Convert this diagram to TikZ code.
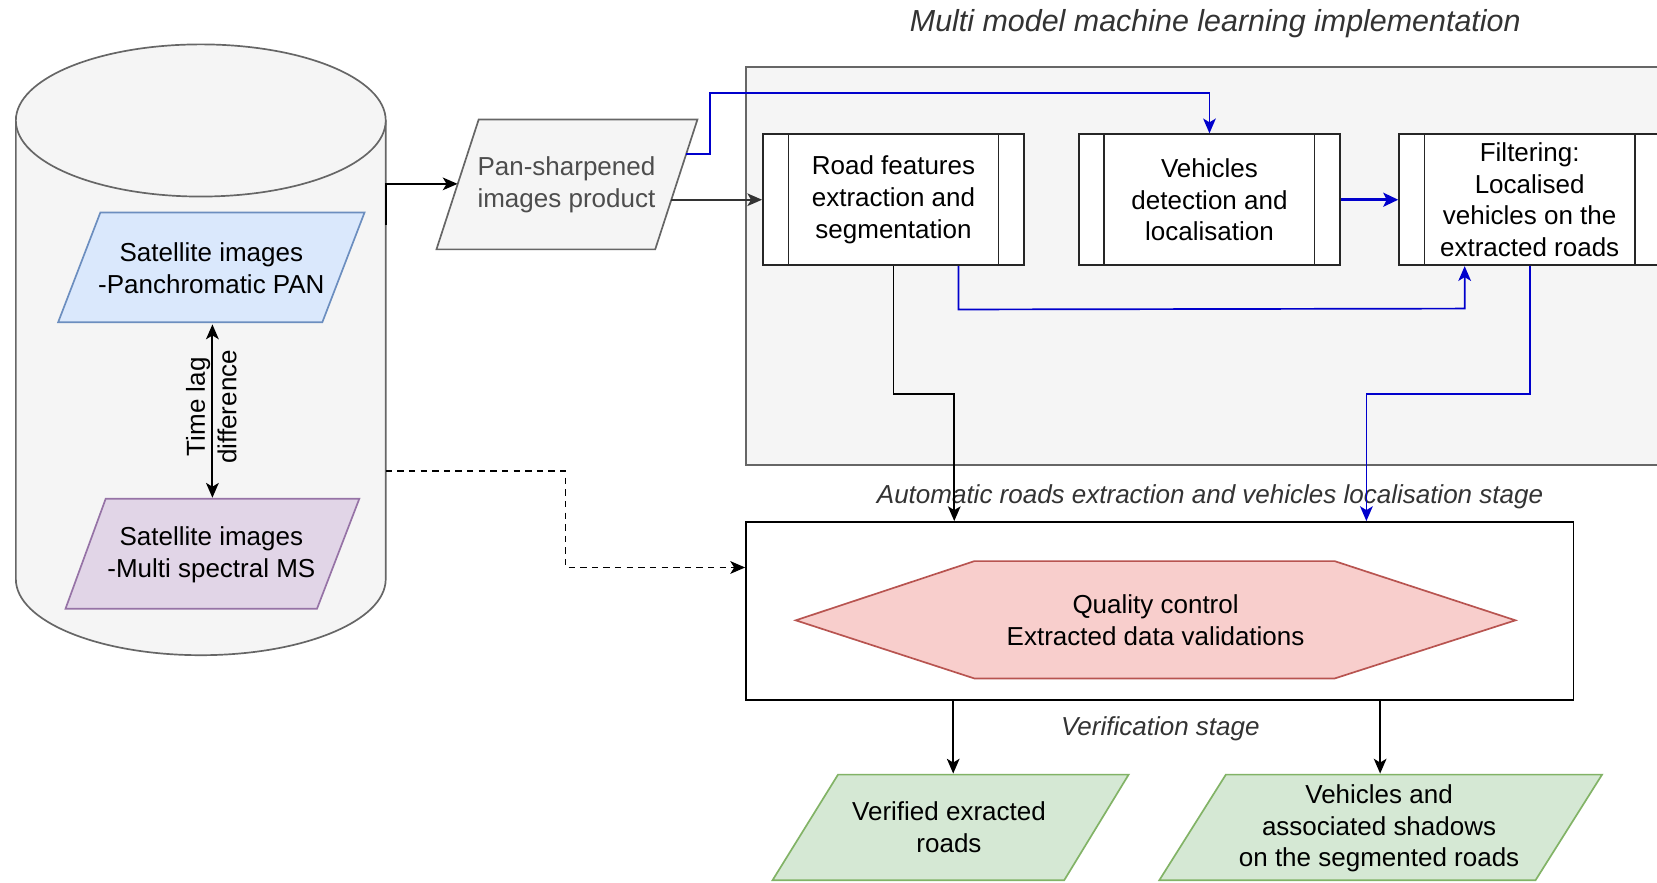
\documentclass[tikz,border=0pt]{standalone}
\usepackage{fontspec}
\setmainfont{Liberation Sans}
\usetikzlibrary{arrows.meta}
\definecolor{grayfill}{HTML}{F5F5F5}
\definecolor{graystroke}{HTML}{666666}
\definecolor{bluefill}{HTML}{DAE8FC}
\definecolor{bluestroke}{HTML}{6C8EBF}
\definecolor{purplefill}{HTML}{E1D5E7}
\definecolor{purplestroke}{HTML}{9673A6}
\definecolor{redfill}{HTML}{F8CECC}
\definecolor{redstroke}{HTML}{B85450}
\definecolor{greenfill}{HTML}{D5E8D4}
\definecolor{greenstroke}{HTML}{82B366}
\definecolor{flowblue}{HTML}{0000CC}
\definecolor{softtext}{HTML}{4D4D4D}
\definecolor{labeltext}{HTML}{333333}

\tikzset{
  body/.style={font=\fontsize{12.3}{15}\selectfont},
  shape line/.style={line width=0.8pt},
  procbox/.style={draw=black!85, fill=white, line width=0.85pt,
    minimum width=123.5pt, minimum height=62pt, inner sep=0pt, align=center,
    path picture={
      \draw[line width=0.8pt] ([xshift=12pt]path picture bounding box.north west) -- ([xshift=12pt]path picture bounding box.south west);
      \draw[line width=0.8pt] ([xshift=-12pt]path picture bounding box.north east) -- ([xshift=-12pt]path picture bounding box.south east);
    }},
  txt/.style={align=center, inner sep=0pt},
  stagelabel/.style={font=\fontsize{12.3}{15}\selectfont\itshape, text=labeltext, inner sep=0pt},
  tip/.tip={Stealth[length=7pt,width=6pt,inset=1.8pt]},
  flow/.style={line width=0.8pt, -tip},
  blueflow/.style={flow, draw=flowblue},
}

\begin{document}
\begin{tikzpicture}[x=0.5pt, y=-0.5pt, body]
\clip (0,0) rectangle (1568,835);
\fill[white] (0,0) rectangle (1568,835);

% ---- container of the detection stage ----
\draw[fill=grayfill, draw=graystroke, line width=0.9pt] (706,63) rectangle (1600,440);

% ---- image store (cylinder) ----
\fill[grayfill] (15,114) -- (15,548)
  arc[start angle=180, end angle=360, x radius=87.5pt, y radius=36pt] -- (365,114) -- cycle;
\draw[graystroke, shape line] (15,114) -- (15,548)
  arc[start angle=180, end angle=360, x radius=87.5pt, y radius=36pt] -- (365,114);
\draw[graystroke, fill=grayfill, shape line] (190,114) ellipse[x radius=87.5pt, y radius=36pt];

% ---- satellite image inputs ----
\draw[fill=bluefill, draw=bluestroke, shape line] (55,305) -- (95,201) -- (345,201) -- (305,305) -- cycle;
\node[txt] (pan) at (200,254) {Satellite images\\-Panchromatic PAN};
\draw[fill=purplefill, draw=purplestroke, shape line] (62,576) -- (100,472) -- (340,472) -- (300,576) -- cycle;
\node[txt] (ms) at (200,525) {Satellite images\\-Multi spectral MS};
\coordinate (panB) at (201,307);
\coordinate (msT) at (201,471);
\draw[line width=1pt, tip-tip] (panB) -- (msT);
\node[txt, rotate=90] (lag) at (200,385) {Time lag\\difference};

% ---- pan-sharpened product ----
\draw[fill=grayfill, draw=graystroke, shape line] (413,236) -- (453,113) -- (660,113) -- (620,236) -- cycle;
\node[txt, text=softtext] (ps) at (536,175) {Pan-sharpened\\images product};
\coordinate (cylR) at (365,213);
\coordinate (psL) at (433,174);
\coordinate (psR) at (635,189);
\coordinate (psRt) at (649,146);

% ---- processing steps ----
\node[procbox] (road) at (845.5,189) {Road features\\extraction and\\segmentation};
\node[procbox] (veh) at (1144.5,189) {Vehicles\\detection and\\localisation};
\node[procbox] (filt) at (1447.5,189) {Filtering:\\Localised\\vehicles on the\\extracted roads};

% ---- verification stage ----
\node[draw=black, fill=white, line width=0.9pt, minimum width=391.5pt, minimum height=84pt, inner sep=0pt] (verif) at (1097.5,578) {};
\draw[fill=redfill, draw=redstroke, shape line] (753,587) -- (922,531) -- (1263,531) -- (1434,587) -- (1263,642) -- (922,642) -- cycle;
\node[txt] (qc) at (1093.5,587) {Quality control\\Extracted data validations};

% ---- outputs ----
\draw[fill=greenfill, draw=greenstroke, shape line] (731,833) -- (793,733) -- (1068,733) -- (1007,833) -- cycle;
\node[txt] (out1) at (898,783) {Verified exracted\\roads};
\draw[fill=greenfill, draw=greenstroke, shape line] (1097,833) -- (1160,733) -- (1516,733) -- (1453,833) -- cycle;
\node[txt] (out2) at (1305,784) {Vehicles and\\associated shadows\\on the segmented roads};
\coordinate (out1T) at (902,732);
\coordinate (out2T) at (1306,732);
\coordinate (cylD) at (365,446);

% ---- labels ----
\node[font=\fontsize{14.4}{17}\selectfont\itshape, text=labeltext, inner sep=0pt] (title) at (1150,22) {Multi model machine learning implementation};
\node[stagelabel] (stage1) at (1145,470) {Automatic roads extraction and vehicles localisation stage};
\node[stagelabel] (stage2) at (1098,690) {Verification stage};

% ---- connectors ----
\draw[flow] (cylR) -- (cylR |- psL) -- (psL);
\draw[flow, draw=black!80] (psR) -- (road.west);
\draw[blueflow] (psRt) -- (672,146) -- (672,88) -- (veh.north |- 0,88) -- (veh.north);
\draw[blueflow, line width=1.6pt, -{Stealth[length=7pt,width=6.5pt,inset=1.5pt]}] (veh.east) -- (filt.west);
\draw[blueflow] ([xshift=30.75pt]road.south) -- ++(0,41) -- (1386,292) -- (filt.south -| 1386,0);
\draw[flow] (road.south) -- (845.5,373) -- (903,373) -- (verif.north -| 903,0);
\draw[blueflow] (filt.south) -- (1447.5,373) -- (1293,373) -- (verif.north -| 1293,0);
\draw[flow, dashed, dash pattern=on 3pt off 2.5pt] (cylD) -- (535,446) -- (535,537) -- (verif.west |- 0,537);
\draw[flow] (verif.south -| out1T) -- (out1T);
\draw[flow] (verif.south -| out2T) -- (out2T);
\end{tikzpicture}
\end{document}
